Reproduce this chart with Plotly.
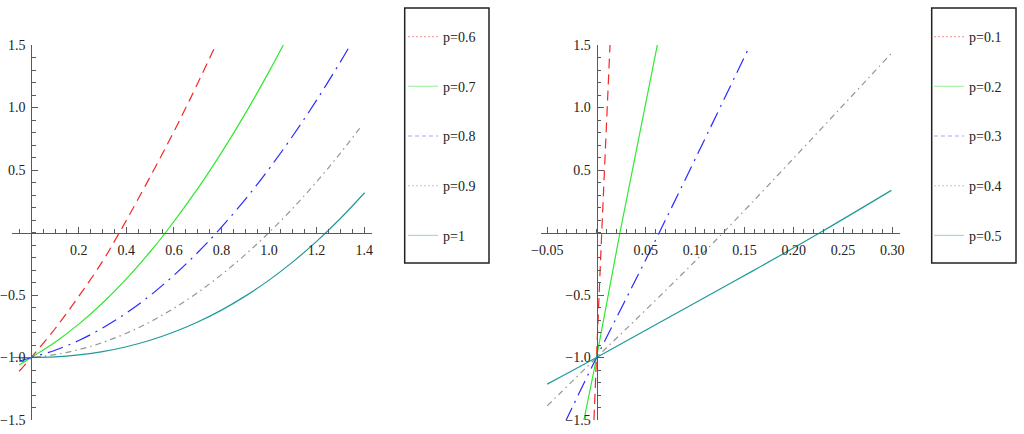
import plotly.graph_objects as go

W, H = 1024, 434

# ---------------- data ----------------
left_labels = ["p=0.6", "p=0.7", "p=0.8", "p=0.9", "p=1"]
left_x = [
    [-0.051, 0.0, 0.1, 0.2, 0.3, 0.371, 0.45, 0.568, 0.67, 0.776],
    [-0.051, 0.0, 0.1, 0.2, 0.3, 0.4, 0.5, 0.565, 0.7, 0.8, 0.9, 1.0, 1.06],
    [-0.051, 0.0, 0.1, 0.2, 0.3, 0.4, 0.5, 0.6, 0.7, 0.78, 0.9, 1.0, 1.1, 1.2, 1.3, 1.342],
    [-0.05, 0.0, 0.1, 0.2, 0.3, 0.4, 0.5, 0.6, 0.7, 0.8, 0.9, 1.0, 1.1, 1.2, 1.3, 1.391],
    [-0.08, -0.04, 0.0, 0.1, 0.2, 0.3, 0.4, 0.5, 0.6, 0.7, 0.8, 0.9, 1.0, 1.1, 1.2, 1.3, 1.402],
]
left_y = [
    [-1.11, -1.0, -0.77, -0.51, -0.23, 0.0, 0.27, 0.69, 1.075, 1.5],
    [-1.06, -1.0, -0.878, -0.733, -0.564, -0.371, -0.154, 0.0, 0.351, 0.639, 0.951, 1.287, 1.5],
    [-1.03, -1.0, -0.942, -0.864, -0.764, -0.644, -0.504, -0.342, -0.16, 0.0, 0.265, 0.509, 0.774, 1.059, 1.365, 1.5],
    [-1.005, -1.0, -0.977, -0.937, -0.88, -0.806, -0.715, -0.606, -0.48, -0.337, -0.177, 0.0, 0.194, 0.406, 0.635, 0.858],
    [-1.0, -1.0, -1.0, -0.995, -0.979, -0.953, -0.914, -0.862, -0.796, -0.716, -0.621, -0.509, -0.381, -0.235, -0.071, 0.112, 0.318],
]

right_labels = ["p=0.1", "p=0.2", "p=0.3", "p=0.4", "p=0.5"]
right_x = [
    [-0.0026, 0.0, 0.0053, 0.0137],
    [-0.0128, 0.0, 0.0238, 0.0617],
    [-0.032, 0.0, 0.0637, 0.155],
    [-0.05, 0.0, 0.0576, 0.1286, 0.299],
    [-0.05, 0.0, 0.0915, 0.159, 0.227, 0.299],
]
right_y = [
    [-1.5, -1.0, 0.0, 1.5],
    [-1.5, -1.0, 0.0, 1.5],
    [-1.521, -1.0, 0.0, 1.486],
    [-1.387, -1.0, -0.56, 0.0, 1.433],
    [-1.213, -1.0, -0.6, -0.305, 0.0, 0.337],
]

left_xticks = [0.2, 0.4, 0.6, 0.8, 1.0, 1.2, 1.4]
left_xticktext = ["0.2", "0.4", "0.6", "0.8", "1.0", "1.2", "1.4"]
right_xticks = [-0.05, 0.05, 0.10, 0.15, 0.20, 0.25, 0.30]
right_xticktext = ["\u22120.05", "0.05", "0.10", "0.15", "0.20", "0.25", "0.30"]
yticks = [-1.5, -1.0, -0.5, 0.5, 1.0, 1.5]
yticktext = ["\u22121.5", "\u22121.0", "\u22120.5", "0.5", "1.0", "1.5"]

# ---------------- styles ----------------
colors = ["#f02828", "#2ee82e", "#2a2aff", "#969696", "#1f9a9a"]
pale = ["#f7a8a8", "#a6f0a6", "#a8a8ff", "#d4d4d4", "#a6dada"]
dashes = ["10px,6px", "solid", "16px,6px,2px,6px", "6px,4px,1.5px,4px", "solid"]
legend_dash = ["2px,2px", "solid", "4px,3px", "2px,2px", "solid"]

L_xrange = [-0.081, 1.433]
R_xrange = [-0.0563, 0.3078]
yrange = [-1.5, 1.5]
L_dom = [12 / W, 372 / W]
R_dom = [541 / W, 900 / W]
y_dom = [14 / H, 389 / H]

def zero_frac(rng, dom):
    return dom[0] + (0 - rng[0]) / (rng[1] - rng[0]) * (dom[1] - dom[0])

fig = go.Figure()

def add_panel(xs, ys, labels, xa, ya, legend):
    for i, (x, y, lab) in enumerate(zip(xs, ys, labels)):
        fig.add_trace(go.Scatter(
            x=x, y=y, mode="lines", xaxis=xa, yaxis=ya, showlegend=False,
            line=dict(color=colors[i], width=1.2, dash=dashes[i], shape="spline", smoothing=1.0),
            hoverinfo="skip"))
    for i, lab in enumerate(labels):
        fig.add_trace(go.Scatter(
            x=[None], y=[None], mode="lines", xaxis=xa, yaxis=ya, name=lab,
            legend=legend, legendgroup=legend + lab, showlegend=True,
            line=dict(color=pale[i], width=1.2, dash=legend_dash[i])))

add_panel(left_x, left_y, left_labels, "x", "y", "legend")
add_panel(right_x, right_y, right_labels, "x2", "y2", "legend2")

axcol = "#5a5a5a"
tickfont = dict(family="Liberation Serif", size=14, color="#222")

def xaxis(rng, dom, ticks, text, minor, ydom):
    return dict(range=rng, domain=dom, anchor="free", position=zero_frac(yrange, ydom),
                showgrid=False, zeroline=False, showline=True, linecolor=axcol, linewidth=1,
                tickmode="array", tickvals=ticks, ticktext=text, ticks="inside",
                ticklen=6, tickcolor=axcol, tickwidth=1, tickfont=tickfont,
                ticklabelstandoff=5,
                minor=dict(dtick=minor, tick0=0, ticks="inside", ticklen=3.5,
                           tickcolor=axcol, tickwidth=1, showgrid=False),
                automargin=False, fixedrange=True)

def yaxis(xrng, xdom):
    return dict(range=yrange, domain=y_dom, anchor="free", position=zero_frac(xrng, xdom),
                showgrid=False, zeroline=False, showline=True, linecolor=axcol, linewidth=1,
                tickmode="array", tickvals=yticks, ticktext=yticktext, ticks="inside",
                ticklen=6, tickcolor=axcol, tickwidth=1, tickfont=tickfont,
                ticklabelstandoff=3,
                minor=dict(dtick=0.1, tick0=0, ticks="inside", ticklen=3.5,
                           tickcolor=axcol, tickwidth=1, showgrid=False),
                automargin=False, fixedrange=True)

legfont = dict(family="Liberation Serif", size=14, color="#222")

fig.update_layout(
    width=W, height=H,
    margin=dict(l=0, r=0, t=0, b=0, autoexpand=False),
    paper_bgcolor="white", plot_bgcolor="white",
    xaxis=xaxis(L_xrange, L_dom, left_xticks, left_xticktext, 0.05, y_dom),
    yaxis=yaxis(L_xrange, L_dom),
    xaxis2=xaxis(R_xrange, R_dom, right_xticks, right_xticktext, 0.01, y_dom),
    yaxis2=yaxis(R_xrange, R_dom),
    legend=dict(x=403 / W, y=(H - 21) / H, xanchor="left", yanchor="top",
                bgcolor="rgba(0,0,0,0)", borderwidth=0, font=legfont,
                tracegroupgap=28.5, traceorder="grouped"),
    legend2=dict(x=929 / W, y=(H - 21) / H, xanchor="left", yanchor="top",
                 bgcolor="rgba(0,0,0,0)", borderwidth=0, font=legfont,
                 tracegroupgap=28.5, traceorder="grouped"),
    shapes=[
        dict(type="rect", xref="paper", yref="paper",
             x0=404.7 / W, x1=489 / W, y0=(H - 263) / H, y1=(H - 8) / H,
             line=dict(color="#222", width=1.5)),
        dict(type="rect", xref="paper", yref="paper",
             x0=931.7 / W, x1=1016 / W, y0=(H - 263) / H, y1=(H - 8) / H,
             line=dict(color="#222", width=1.5)),
    ],
    showlegend=True,
)

fig.write_html("out.html", config={"displayModeBar": False},
               post_script="document.body.style.margin='0';document.body.style.overflow='hidden';")
